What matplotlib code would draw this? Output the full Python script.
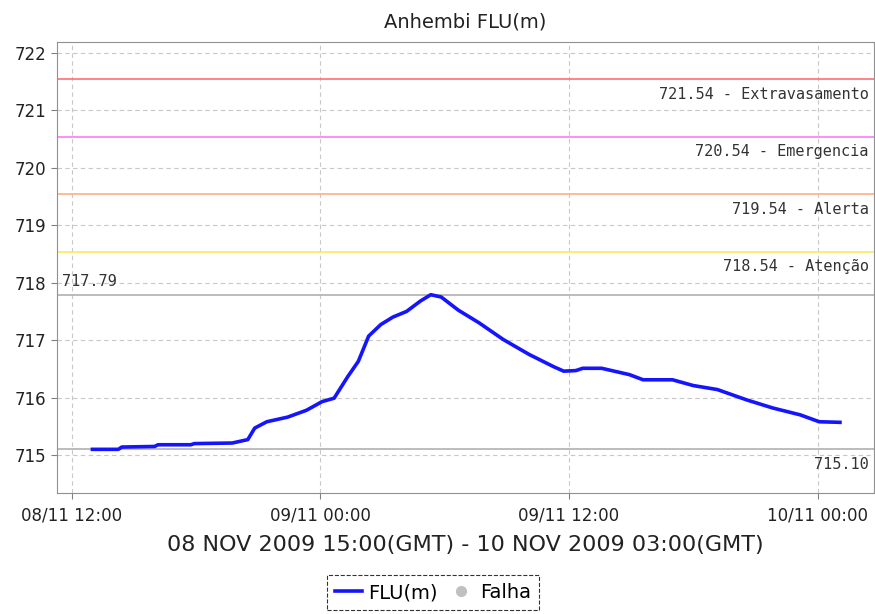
#!/usr/bin/env python3
"""Anhembi FLU(m) level chart with alert thresholds."""

import pandas as pd
import matplotlib
matplotlib.use("Agg")
import matplotlib.pyplot as plt
import matplotlib.dates as mdates
from matplotlib.lines import Line2D

plt.rcParams.update({
    "font.family": "DejaVu Sans",
    "font.size": 10,
})

# level readings (local time)
times = [
    "2009-11-08 13:00", "2009-11-08 14:15", "2009-11-08 14:25", "2009-11-08 16:00",
    "2009-11-08 16:10", "2009-11-08 17:45", "2009-11-08 17:55", "2009-11-08 19:45",
    "2009-11-08 20:30", "2009-11-08 20:50", "2009-11-08 21:25", "2009-11-08 22:25",
    "2009-11-08 23:20", "2009-11-09 00:05", "2009-11-09 00:40", "2009-11-09 01:20",
    "2009-11-09 01:50", "2009-11-09 02:20", "2009-11-09 02:55", "2009-11-09 03:30",
    "2009-11-09 04:10", "2009-11-09 04:50", "2009-11-09 05:20", "2009-11-09 05:50",
    "2009-11-09 06:40", "2009-11-09 07:40", "2009-11-09 08:50", "2009-11-09 10:05",
    "2009-11-09 11:15", "2009-11-09 11:45", "2009-11-09 12:20", "2009-11-09 12:40",
    "2009-11-09 13:35", "2009-11-09 14:55", "2009-11-09 15:35", "2009-11-09 17:00",
    "2009-11-09 18:00", "2009-11-09 19:10", "2009-11-09 20:35", "2009-11-09 21:50",
    "2009-11-09 23:10", "2009-11-10 00:05", "2009-11-10 01:05",
]
levels = [
    715.10, 715.10, 715.14, 715.15,
    715.18, 715.18, 715.20, 715.21,
    715.27, 715.47, 715.58, 715.66,
    715.78, 715.93, 715.99, 716.37,
    716.63, 717.07, 717.27, 717.40,
    717.50, 717.68, 717.79, 717.75,
    717.52, 717.30, 717.01, 716.75,
    716.54, 716.46, 716.47, 716.51,
    716.51, 716.40, 716.31, 716.31,
    716.21, 716.14, 715.96, 715.82,
    715.70, 715.58, 715.57,
]

threshold_values = [721.54, 720.54, 719.54, 718.54]
threshold_names = ["Extravasamento", "Emergencia", "Alerta", "Atenção"]
threshold_colors = ["#ff7070", "#ff78ff", "#ffb080", "#ffe860"]

level_max = 717.79
level_min = 715.10

title = "Anhembi FLU(m)"
period = "08 NOV 2009 15:00(GMT) - 10 NOV 2009 03:00(GMT)"
x_start = "2009-11-08 11:17"
x_end = "2009-11-10 02:44"


def plot_level(out_path="out.png"):
    t = pd.to_datetime(times)

    fig = plt.figure(figsize=(8.75, 6.14), dpi=100)
    ax = fig.add_axes([0.065, 0.197, 0.934, 0.735])

    ax.grid(True, color="#c8c8c8", linestyle=(0, (4, 3)), linewidth=0.8)
    ax.set_axisbelow(True)

    label_kw = dict(xycoords=("axes fraction", "data"), textcoords="offset points",
                    ha="right", va="top", fontsize=11, color="#333333",
                    family="DejaVu Sans Mono")

    for v, name, c in zip(threshold_values, threshold_names, threshold_colors):
        ax.axhline(v, color=c, linewidth=1.2, zorder=2)
        ax.annotate(f"{v:.2f} - {name}", xy=(1, v), xytext=(-4, -5.5), **label_kw)

    ax.axhline(level_max, color="#b0b0b0", linewidth=1.2, zorder=2)
    ax.annotate(f"{level_max:.2f}", xy=(0, level_max), xytext=(4, 4),
                xycoords=("axes fraction", "data"), textcoords="offset points",
                ha="left", va="bottom", fontsize=11, color="#333333",
                family="DejaVu Sans Mono")
    ax.axhline(level_min, color="#b0b0b0", linewidth=1.2, zorder=2)
    ax.annotate(f"{level_min:.2f}", xy=(1, level_min), xytext=(-4, -5.5), **label_kw)

    ax.plot(t, levels, color="#1414ff", linewidth=2.6, zorder=3,
            solid_joinstyle="round")

    ax.set_xlim(pd.Timestamp(x_start), pd.Timestamp(x_end))
    ax.set_ylim(714.34, 722.19)
    ax.set_yticks(range(715, 723))
    ax.xaxis.set_major_locator(mdates.HourLocator(byhour=[0, 12]))
    ax.xaxis.set_major_formatter(mdates.DateFormatter("%d/%m %H:%M"))
    ax.tick_params(axis="both", colors="#808080", labelcolor="#222222",
                   labelsize=12, length=4, width=0.8)
    ax.tick_params(axis="x", pad=6)

    for s in ax.spines.values():
        s.set_color("#909090")
        s.set_linewidth(0.8)

    ax.set_title(title, fontsize=14, color="#222222", pad=10)
    ax.set_xlabel(period, fontsize=16, color="#222222", labelpad=7)

    handles = [
        Line2D([], [], color="#1414ff", linewidth=2.6),
        Line2D([], [], color="#c0c0c0", marker="o", linestyle="none", markersize=7),
    ]
    leg = fig.legend(handles, ["FLU(m)", "Falha"], loc="center",
                     bbox_to_anchor=(0.495, 0.035), ncol=2, fontsize=14,
                     frameon=True, fancybox=False, handlelength=1.4,
                     handletextpad=0.3, columnspacing=0.5, borderpad=0.4,
                     borderaxespad=0)
    frame = leg.get_frame()
    frame.set_edgecolor("black")
    frame.set_linestyle("--")
    frame.set_linewidth(0.8)

    fig.savefig(out_path, dpi=100)
    print(f"Saved {out_path}")


if __name__ == "__main__":
    plot_level()
